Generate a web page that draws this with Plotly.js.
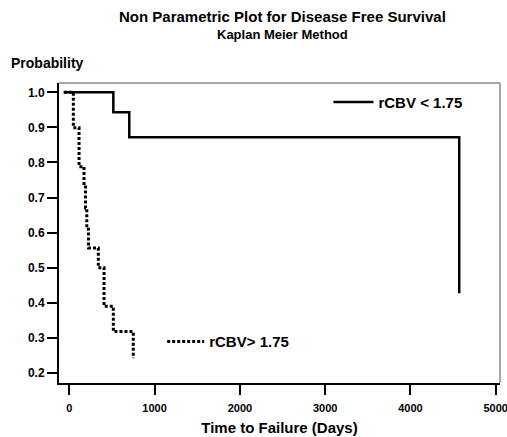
<!DOCTYPE html>
<html>
<head>
<meta charset="utf-8">
<script src="https://cdn.plot.ly/plotly-3.0.1.min.js"></script>
<style>html,body{margin:0;padding:0;background:#fff;}#chart{width:507px;height:437px;}</style>
</head>
<body>
<div id="chart"></div>
<script>
// Kaplan-Meier step data (days, survival probability)
const lowDays = [-65, 516, 703, 4572];
const lowProb = [1.0, 0.943, 0.872, 0.427];
const highDays = [-65, 47, 114, 172, 190, 205, 225, 340, 407, 516, 750];
const highProb = [1.0, 0.899, 0.788, 0.73, 0.67, 0.61, 0.556, 0.5, 0.39, 0.318, 0.242];
const seriesNames = ["rCBV < 1.75", "rCBV> 1.75"];
const yTicks = [0.2, 0.3, 0.4, 0.5, 0.6, 0.7, 0.8, 0.9, 1.0];
const xTicks = [0, 1000, 2000, 3000, 4000, 5000];

const FONT = "Liberation Sans, Arial, Helvetica, sans-serif";

const traces = [
  {x: lowDays, y: lowProb, name: seriesNames[0], mode: "lines",
   line: {shape: "hv", color: "#000", width: 2.5}, legend: "legend"},
  {x: highDays, y: highProb, name: seriesNames[1], mode: "lines",
   line: {shape: "hv", color: "#000", width: 3, dash: "3px,2px"}, legend: "legend2"}
];

const layout = {
  width: 507, height: 437,
  margin: {l: 59, r: 7, t: 83, b: 54},
  paper_bgcolor: "#fff", plot_bgcolor: "#fff",
  font: {family: FONT, color: "#000"},
  showlegend: true,
  legend: {x: 0.611, y: 0.9357, xanchor: "left", yanchor: "middle", bgcolor: "rgba(0,0,0,0)",
           itemwidth: 40,
           font: {family: FONT, size: 15, weight: "bold", color: "#000"}},
  legend2: {x: 0.234, y: 0.1377, xanchor: "left", yanchor: "middle", bgcolor: "rgba(0,0,0,0)",
           itemwidth: 37,
           font: {family: FONT, size: 15, weight: "bold", color: "#000"}},
  xaxis: {
    range: [-121, 5050], tickvals: xTicks, ticktext: xTicks.map(String),
    showgrid: false, zeroline: false, showline: true, linecolor: "#000", linewidth: 2,
    ticks: "outside", ticklen: 10, tickwidth: 2, tickcolor: "#000",
    tickfont: {family: FONT, size: 11, weight: "bold"}, ticklabelstandoff: 4,
    ticklabeloverflow: "allow",
    title: {text: "Time to Failure (Days)", font: {family: FONT, size: 15, weight: "bold"}, standoff: 9}
  },
  yaxis: {
    range: [0.1715, 1.0265], tickvals: yTicks, tickformat: ".1f",
    showgrid: false, zeroline: false, showline: true, linecolor: "#000", linewidth: 2,
    ticks: "outside", ticklen: 10, tickwidth: 2, tickcolor: "#000",
    tickfont: {family: FONT, size: 12, weight: "bold"}
  },
  shapes: [
    {type: "line", xref: "paper", yref: "paper", x0: 0, x1: 1, y0: 1, y1: 1, line: {color: "#8a8a8a", width: 1.5}},
    {type: "line", xref: "paper", yref: "paper", x0: 1, x1: 1, y0: 0, y1: 1, line: {color: "#8a8a8a", width: 1.5}}
  ],
  annotations: [
    {text: "Non Parametric Plot for Disease Free Survival", xref: "paper", yref: "paper",
     x: 0.506, y: 1.221, xanchor: "center", yanchor: "middle", showarrow: false,
     font: {family: FONT, size: 15, weight: "bold"}},
    {text: "Kaplan Meier Method", xref: "paper", yref: "paper",
     x: 0.506, y: 1.1623, xanchor: "center", yanchor: "middle", showarrow: false,
     font: {family: FONT, size: 13, weight: "bold"}},
    {text: "Probability", xref: "paper", yref: "paper",
     x: -0.114, y: 1.0657, xanchor: "left", yanchor: "middle", showarrow: false,
     font: {family: FONT, size: 14, weight: "bold"}}
  ]
};

Plotly.newPlot("chart", traces, layout, {displayModeBar: false, staticPlot: true});
</script>
</body>
</html>
